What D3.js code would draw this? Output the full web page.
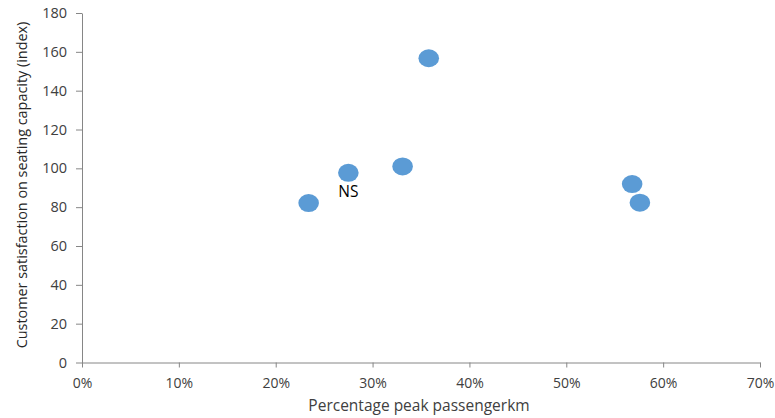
<!DOCTYPE html>
<html>
<head>
<meta charset="utf-8">
<script src="https://cdn.jsdelivr.net/npm/d3@7"></script>
<style>
  html, body { margin: 0; padding: 0; background: #fff; }
  svg { display: block; font-family: "Open Sans", Lato, "Liberation Sans", sans-serif; }
</style>
</head>
<body>
<svg id="chart" width="775" height="418"></svg>
<script>
// Data
const xValues = [23.4, 27.5, 33.1, 35.8, 56.8, 57.6];   // % peak passengerkm
const yValues = [82.1, 97.7, 101.0, 156.7, 91.9, 82.3]; // satisfaction index
const pointLabels = ["", "NS", "", "", "", ""];
const xTicks = [0, 10, 20, 30, 40, 50, 60, 70];
const yTicks = [0, 20, 40, 60, 80, 100, 120, 140, 160, 180];
const xTitle = "Percentage peak passengerkm";
const yTitle = "Customer satisfaction on seating capacity (index)";

const svg = d3.select("#chart");
const FONT = "'Open Sans', Lato, sans-serif";

const x = d3.scaleLinear().domain([0, 70]).range([82, 760]);
const y = d3.scaleLinear().domain([0, 180]).range([362.5, 13]);

const axisColor = "#868686";
const textColor = "#404040";

// X axis
const xAxis = svg.append("g")
  .attr("transform", `translate(0,${y(0)})`)
  .call(d3.axisBottom(x).tickValues(xTicks).tickFormat(d => d + "%").tickSize(5).tickSizeOuter(0));
xAxis.select(".domain").attr("stroke", axisColor);
xAxis.selectAll(".tick line").attr("stroke", axisColor);
xAxis.selectAll(".tick text")
  .attr("fill", textColor).attr("font-size", 14).attr("y", 0).attr("dy", 25.5)
  .style("font-family", FONT);

// Y axis
const yAxis = svg.append("g")
  .attr("transform", `translate(${x(0)},0)`)
  .call(d3.axisLeft(y).tickValues(yTicks).tickSize(6).tickSizeOuter(0).tickPadding(9));
yAxis.select(".domain").attr("stroke", axisColor);
yAxis.selectAll(".tick line").attr("stroke", axisColor);
yAxis.selectAll(".tick text")
  .attr("fill", textColor).attr("font-size", 14.5)
  .style("font-family", FONT);

// Axis titles
svg.append("text")
  .attr("x", 419).attr("y", 411)
  .attr("text-anchor", "middle")
  .attr("font-size", 15.5)
  .attr("fill", textColor)
  .text(xTitle);

svg.append("text")
  .attr("transform", `translate(27,185) rotate(-90)`)
  .attr("text-anchor", "middle")
  .attr("font-size", 14.4)
  .attr("fill", "#262626")
  .text(yTitle);

// Points
const pts = xValues.map((v, i) => ({ x: v, y: yValues[i], label: pointLabels[i] }));
svg.append("g").selectAll("ellipse")
  .data(pts).join("ellipse")
  .attr("cx", d => x(d.x))
  .attr("cy", d => y(d.y))
  .attr("rx", 10.3)
  .attr("ry", 9)
  .attr("fill", "#5B9BD5");

// Point labels
svg.append("g").selectAll("text")
  .data(pts.filter(d => d.label)).join("text")
  .attr("x", d => x(d.x))
  .attr("y", d => y(d.y) + 24)
  .attr("text-anchor", "middle")
  .attr("font-size", 15.5)
  .attr("fill", "#000")
  .text(d => d.label);
</script>
</body>
</html>
